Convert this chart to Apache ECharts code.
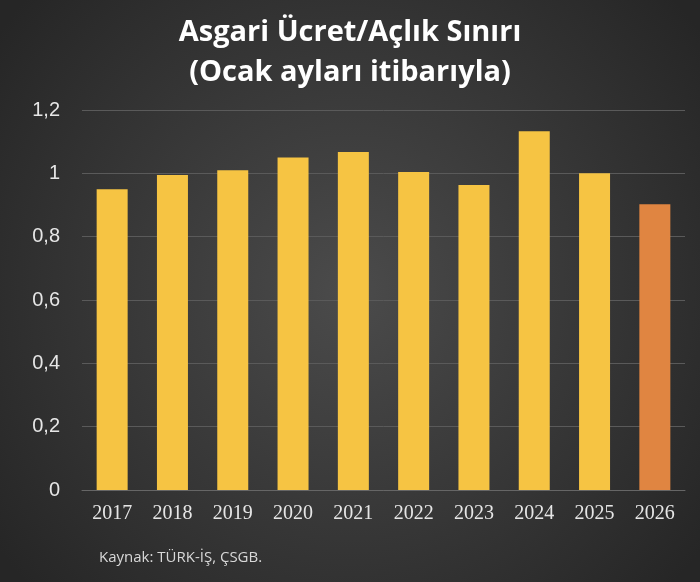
<!DOCTYPE html>
<html><head><meta charset="utf-8">
<script src="https://cdn.jsdelivr.net/npm/echarts@6/dist/echarts.min.js"></script>
<style>html,body{margin:0;padding:0;}#c{width:700px;height:582px;}</style>
</head><body><div id="c"></div>
<script>
const categories = ['2017','2018','2019','2020','2021','2022','2023','2024','2025','2026'];
const values = [0.95, 0.995, 1.01, 1.05, 1.067, 1.004, 0.963, 1.133, 1.0, 0.902];
const barColors = ['#F6C443','#F6C443','#F6C443','#F6C443','#F6C443','#F6C443','#F6C443','#F6C443','#F6C443','#E08541'];
const yTicks = [0, 0.2, 0.4, 0.6, 0.8, 1, 1.2];
const chart = echarts.init(document.getElementById('c'));
chart.setOption({
  backgroundColor: {type:'radial', x:0.5, y:0.5, r:0.75, colorStops:[{offset:0,color:'#4b4b4b'},{offset:1,color:'#262626'}]},
  title: [{text:'Asgari Ücret/Açlık Sınırı\n(Ocak ayları itibarıyla)', left:'center', top:8,
    textStyle:{color:'#fff', fontSize:29, fontWeight:'bold', fontFamily:'Open Sans', lineHeight:40}},
    {text:'Kaynak: TÜRK-İŞ, ÇSGB.', left:94, top:545, textStyle:{color:'#d8d8d8', fontSize:15, fontWeight:'normal', fontFamily:'Open Sans'}}],
  grid:{left:82, right:15, top:110, bottom:92},
  xAxis:{type:'category', data:categories, axisLine:{lineStyle:{color:'#666'}}, axisTick:{show:false},
    axisLabel:{color:'#e6e6e6', fontSize:20, fontFamily:'Liberation Serif', margin:14}},
  yAxis:{type:'value', min:0, max:1.2, interval:0.2,
    axisLabel:{color:'#e6e6e6', fontSize:20, fontFamily:'Liberation Sans', margin:22,
      formatter:v=>{const t=yTicks.find(x=>Math.abs(x-v)<1e-6); return String(t===undefined?v:t).replace('.',',');}},
    splitLine:{lineStyle:{color:'#5a5a5a'}}},
  series:[{type:'bar', barWidth:31, data:values.map((v,i)=>({value:v, itemStyle:{color:barColors[i]}}))}]
});
</script></body></html>
